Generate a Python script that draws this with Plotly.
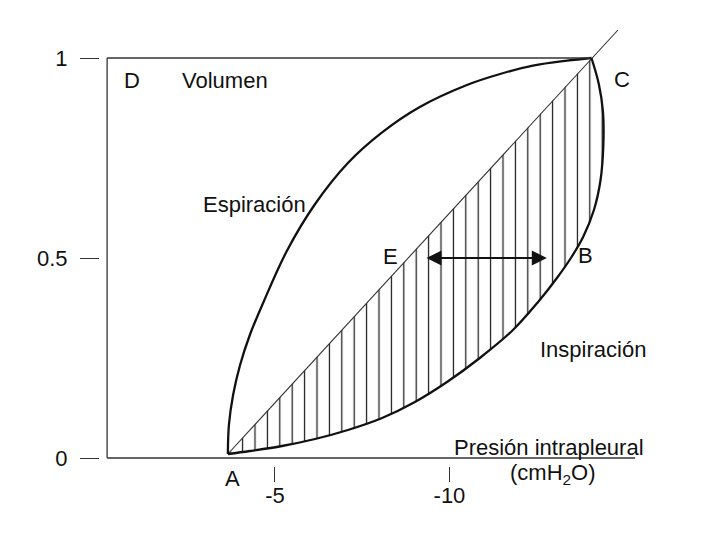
import plotly.graph_objects as go

# ---------------- data (pressure in cmH2O, volume normalised) ----------------
# Expiration limb A -> C (upper curve)
exp_p = [-3.65, -3.68, -3.80, -4.00, -4.28, -4.66, -5.34, -6.15, -7.09, -8.07,
         -9.15, -10.50, -11.45, -12.39, -13.37, -14.07]
exp_v = [0.01, 0.0825, 0.1575, 0.2325, 0.3075, 0.3875, 0.5175, 0.635, 0.7375, 0.814,
         0.8775, 0.9325, 0.96, 0.981, 0.9935, 1.0]

# Inspiration limb A -> B -> C (lower curve, bulging past C)
insp_p = [-3.65, -4.28, -5.20, -6.15, -7.09, -8.07, -9.01, -9.93, -10.87, -11.82,
          -12.54, -13.08, -13.48, -13.83, -14.14, -14.33, -14.41, -14.40, -14.28, -14.07]
insp_v = [0.01, 0.0175, 0.03, 0.0475, 0.07, 0.10, 0.14, 0.19, 0.25, 0.32,
          0.39, 0.45, 0.50, 0.5525, 0.62, 0.695, 0.7825, 0.865, 0.935, 1.0]

# Straight compliance line A -> C, extended beyond C
diag_p = [-3.65, -14.83]
diag_v = [0.01, 1.07]

# Double arrow E <-> B
arrow_p = [-9.30, -12.79]
arrow_v = [0.5, 0.5]

x_tickvals = [-5, -10]
x_ticktext = ["-5", "-10"]
y_tickvals = [0, 0.5, 1]
y_ticktext = ["0", "0.5", "1"]

# (text, pressure, volume, vertical pixel shift)
labels = [
    ("D", -0.90, 0.945, 0),
    ("Volumen", -3.57, 0.945, 0),
    ("C", -14.94, 0.947, 0),
    ("Espiración", -4.40, 0.635, 0),
    ("E", -8.32, 0.505, 0),
    ("B", -13.91, 0.507, 0),
    ("Inspiración", -14.11, 0.272, 0),
    ("Presión intrapleural", -12.85, 0.027, 0),
    ("(cmH<sub>2</sub>O)", -12.97, 0.0, -16),
    ("A", -3.77, 0.0, -20),
]

# frame extents
frame_left = -0.19
frame_right = -15.32
frame_top_end = -14.07

FONT = "Liberation Sans, Arial, Helvetica, sans-serif"
INK = "#111111"
SM = 1.0

fig = go.Figure()

# hatched area between the straight line and the inspiration limb
fig.add_trace(go.Scatter(
    x=insp_p, y=insp_v, mode="lines", fill="toself",
    line=dict(width=0, shape="spline", smoothing=SM),
    fillcolor="rgba(255,255,255,0)",
    fillpattern=dict(shape="|", size=12.4, solidity=0.1, fgcolor="#1a1a1a",
                     bgcolor="rgba(255,255,255,0)", fillmode="replace"),
    hoverinfo="skip", showlegend=False))

# straight line
fig.add_trace(go.Scatter(x=diag_p, y=diag_v, mode="lines",
                         line=dict(color="#333333", width=1.1),
                         hoverinfo="skip", showlegend=False))

# expiration curve
fig.add_trace(go.Scatter(x=exp_p, y=exp_v, mode="lines",
                         line=dict(color=INK, width=2.3, shape="spline", smoothing=SM),
                         showlegend=False))

# inspiration curve
fig.add_trace(go.Scatter(x=insp_p, y=insp_v, mode="lines",
                         line=dict(color=INK, width=2.3, shape="spline", smoothing=SM),
                         showlegend=False))

# frame lines
fig.add_shape(type="line", x0=frame_left, x1=frame_left, y0=0, y1=1,
              line=dict(color="#333333", width=1.3))
fig.add_shape(type="line", x0=frame_left, x1=frame_top_end, y0=1, y1=1,
              line=dict(color="#333333", width=1.3))
fig.add_shape(type="line", x0=frame_left, x1=frame_right, y0=0, y1=0,
              line=dict(color="#333333", width=1.3))

# double-headed arrow
fig.add_annotation(x=arrow_p[1], y=arrow_v[1], ax=arrow_p[0], ay=arrow_v[0],
                   xref="x", yref="y", axref="x", ayref="y", text="",
                   showarrow=True, arrowhead=2, startarrowhead=2,
                   arrowside="end+start", arrowsize=1.5, startarrowsize=1.5,
                   arrowwidth=2, arrowcolor=INK, standoff=0, startstandoff=0)

for txt, px_, vy, ys in labels:
    fig.add_annotation(x=px_, y=vy, xref="x", yref="y", text=txt, showarrow=False,
                       xanchor="center", yanchor="middle", yshift=ys,
                       font=dict(family=FONT, size=22, color=INK))

fig.update_xaxes(range=[0.014, -17.18], showgrid=False, zeroline=False, showline=False,
                 ticks="outside", ticklen=15, tickwidth=1.3, tickcolor="#333333",
                 tickvals=x_tickvals, ticktext=x_ticktext, ticklabelstandoff=-5,
                 tickfont=dict(family=FONT, size=22, color=INK))
fig.update_yaxes(range=[-0.02, 1.095], showgrid=False, zeroline=False, showline=False,
                 ticks="outside", ticklen=19, tickwidth=1.3, tickcolor="#333333",
                 tickvals=y_tickvals, ticktext=y_ticktext, ticklabelstandoff=8,
                 tickfont=dict(family=FONT, size=22, color=INK))

# page body adds an 8px offset; margins compensate so the plot area sits where the reference has it
fig.update_layout(width=715, height=544, margin=dict(l=92, r=23, t=12, b=86),
                  paper_bgcolor="white", plot_bgcolor="white", showlegend=False)

fig.write_html("out.html")
